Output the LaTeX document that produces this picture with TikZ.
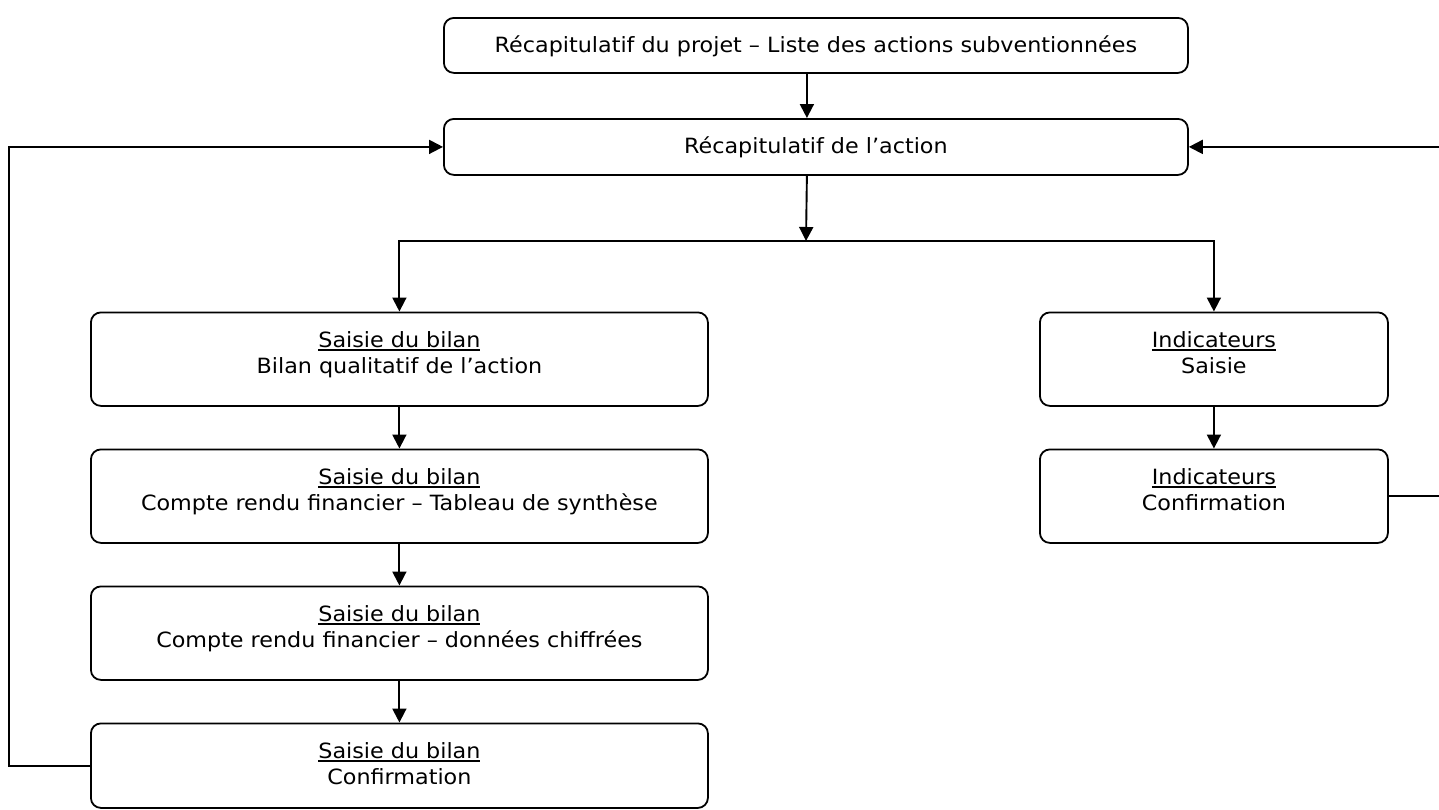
\documentclass[tikz,border=0pt]{standalone}
\usepackage{fontspec}
\setmainfont[FakeStretch=1.06]{DejaVu Sans}
\usetikzlibrary{arrows.meta}
\newcommand\myul[1]{{\setbox0\hbox{#1}\rlap{\rule[-3.5pt]{\wd0}{1.6pt}}\box0}}
\newcommand\bx[3]{\parbox[c][#2][t]{#1}{\centering\rule{0pt}{35pt}#3}}
\tikzset{
  box/.style={draw, line width=1.8pt, rounded corners=10pt, inner sep=0pt, anchor=north west,
    font=\fontsize{21}{26}\selectfont},
  conn/.style={line width=1.9pt},
  arr/.style={conn, -{Triangle[length=14pt,width=14pt]}},
}
\begin{document}
\begin{tikzpicture}[x=1pt,y=-1pt]
\useasboundingbox (0,0) rectangle (1439,809);
\fill[white] (0,0) rectangle (1439,809);
% top
\node[box] (top) at (443,17) {\bx{744pt}{55pt}{Récapitulatif du projet – Liste des actions subventionnées}};
\node[box] (act) at (443,118) {\bx{744pt}{56pt}{Récapitulatif de l’action}};
% left column
\node[box] (L1) at (90,311.5) {\bx{617pt}{93.5pt}{\myul{Saisie du bilan}\\Bilan qualitatif de l’action}};
\node[box] (L2) at (90,448.5) {\bx{617pt}{93.5pt}{\myul{Saisie du bilan}\\Compte rendu financier – Tableau de synthèse}};
\node[box] (L3) at (90,585.5) {\bx{617pt}{93.5pt}{\myul{Saisie du bilan}\\Compte rendu financier – données chiffrées}};
\node[box] (L4) at (90,722.5) {\bx{617pt}{84.5pt}{\myul{Saisie du bilan}\\Confirmation}};
% right column
\node[box] (R1) at (1039,311.5) {\bx{348pt}{93.5pt}{\myul{Indicateurs}\\Saisie}};
\node[box] (R2) at (1039,448.5) {\bx{348pt}{93.5pt}{\myul{Indicateurs}\\Confirmation}};
% connectors
\coordinate (split) at (806,241);
\coordinate (lb) at (9,0);
\coordinate (rb) at (1441,0);
\draw[arr] ([xshift=-9pt]top.south) -- ([xshift=-9pt]act.north);
\draw[arr] ([xshift=-9pt]act.south) -- (split);
\draw[arr] (split) -| (L1.north);
\draw[arr] (split) -| (R1.north);
\draw[arr] (L1.south) -- (L2.north);
\draw[arr] (L2.south) -- (L3.north);
\draw[arr] (L3.south) -- (L4.north);
\draw[arr] (R1.south) -- (R2.north);
\draw[arr] (L4.west) -- (L4.west -| lb) |- (act.west);
\draw[arr] (R2.east) -- (R2.east -| rb) |- (act.east);
\end{tikzpicture}
\end{document}
